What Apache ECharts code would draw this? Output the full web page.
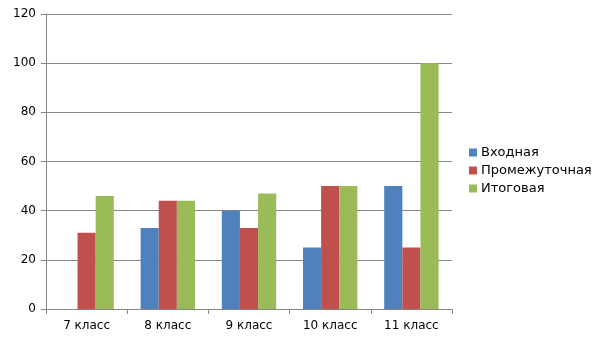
<!DOCTYPE html>
<html>
<head>
<meta charset="utf-8">
<script src="https://cdn.jsdelivr.net/npm/echarts@6/dist/echarts.min.js"></script>
<style>
  html, body { margin: 0; padding: 0; background: #fff; }
  #chart { width: 605px; height: 340px; }
</style>
</head>
<body>
<div id="chart"></div>
<script>
// Grades and the three assessment stages
const categories = ['7 класс', '8 класс', '9 класс', '10 класс', '11 класс'];
const seriesNames = ['Входная', 'Промежуточная', 'Итоговая'];
const entryValues = [null, 33, 40, 25, 50];
const midValues = [31, 44, 33, 50, 25];
const finalValues = [46, 44, 47, 50, 100];
const yTicks = { min: 0, max: 120, interval: 20 };

const colors = ['#4F81BD', '#C0504D', '#9BBB59'];
const font = 'DejaVu Sans';

const chart = echarts.init(document.getElementById('chart'), null, { renderer: 'canvas' });

const makeSeries = (name, data, color) => ({
  name,
  type: 'bar',
  data,
  barGap: '0%',
  barCategoryGap: '33%',
  itemStyle: { color },
  emphasis: { disabled: true }
});

chart.setOption({
  animation: false,
  textStyle: { fontFamily: font },
  grid: { left: 46, right: 153, top: 14, bottom: 31, containLabel: false },
  legend: {
    orient: 'vertical',
    left: 464,
    top: 141,
    itemWidth: 8,
    itemHeight: 8,
    itemGap: 5,
    icon: 'rect',
    textStyle: { fontFamily: font, fontSize: 13, color: '#000', padding: [0, 0, 0, -1] },
    data: seriesNames
  },
  xAxis: {
    type: 'category',
    data: categories,
    axisLine: { lineStyle: { color: '#868686', width: 1 } },
    axisTick: { show: true, length: 5, lineStyle: { color: '#868686' }, alignWithLabel: false },
    axisLabel: { color: '#000', fontFamily: font, fontSize: 12, margin: 11 }
  },
  yAxis: {
    type: 'value',
    min: yTicks.min,
    max: yTicks.max,
    interval: yTicks.interval,
    axisLine: { show: true, lineStyle: { color: '#868686', width: 1 } },
    axisTick: { show: true, length: 5, lineStyle: { color: '#868686' } },
    splitLine: { show: true, lineStyle: { color: '#868686', width: 1 } },
    axisLabel: { color: '#000', fontFamily: font, fontSize: 12, margin: 10 }
  },
  series: [
    makeSeries(seriesNames[0], entryValues, colors[0]),
    makeSeries(seriesNames[1], midValues, colors[1]),
    makeSeries(seriesNames[2], finalValues, colors[2])
  ]
});
</script>
</body>
</html>
